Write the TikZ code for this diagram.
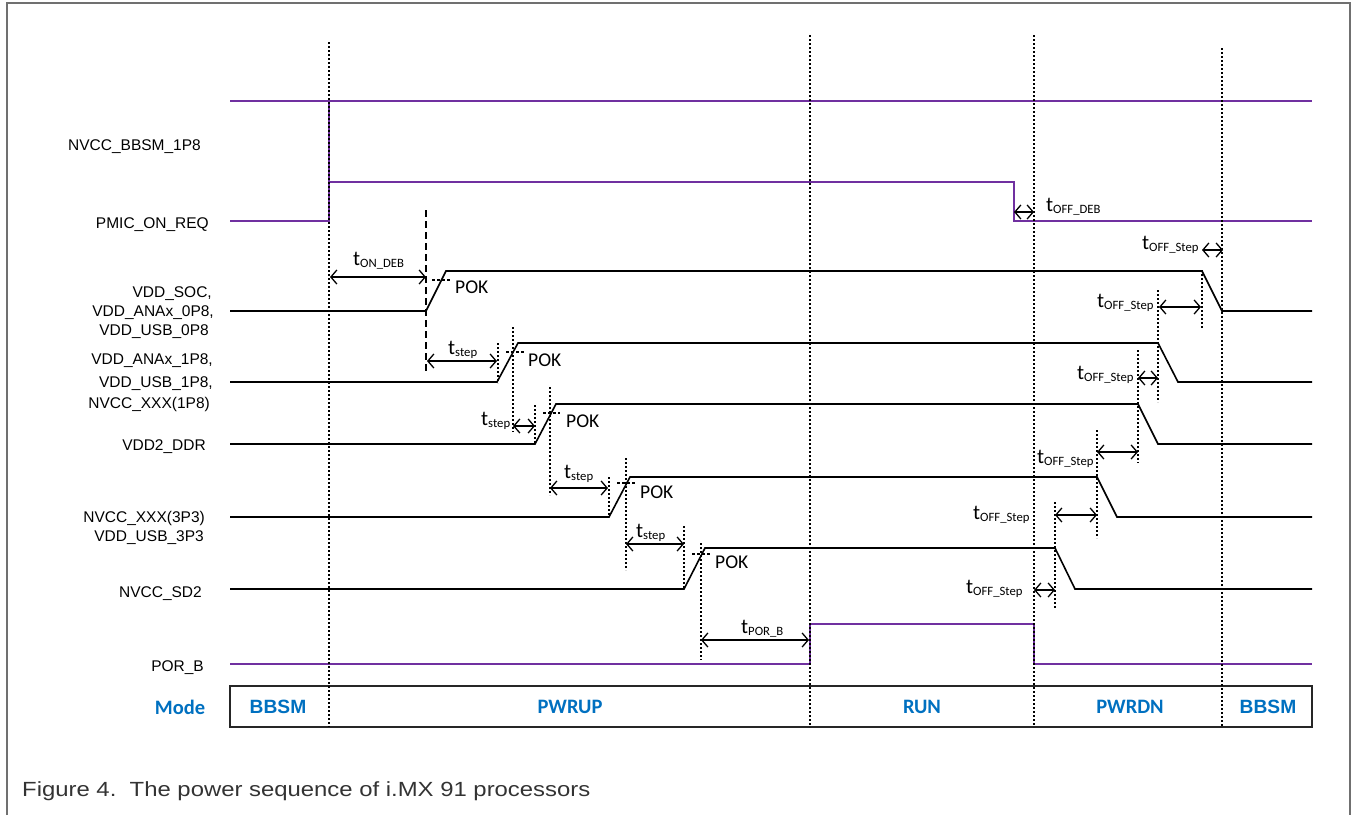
\documentclass[tikz,border=0pt]{standalone}
\usepackage{fontspec}
\setmainfont{Liberation Sans}
\newfontfamily\calib{Carlito}
\usetikzlibrary{arrows.meta}
\definecolor{sigpurple}{HTML}{7030A0}
\definecolor{modeblue}{HTML}{0070C0}
\definecolor{framegray}{HTML}{707070}
\definecolor{captgray}{HTML}{333333}
\newcommand\tlab[1]{{\calib\fontsize{21}{22}\selectfont t\fontsize{12.7}{13}\selectfont\raisebox{-2.5pt}{#1}}}
\begin{document}
\begin{tikzpicture}[x=1pt,y=-1pt,
  sig/.style={line width=1.6pt, black},
  psig/.style={line width=1.8pt, sigpurple},
  vdot/.style={line width=1.2pt, dash pattern=on 2pt off 2pt},
  vdash/.style={line width=1.3pt, dash pattern=on 7pt off 4pt},
  pokdash/.style={line width=1.2pt, dash pattern=on 3pt off 2pt},
  tarr/.style={line width=1.3pt, {Straight Barb[length=6pt,width=14pt]}-{Straight Barb[length=6pt,width=14pt]}},
  slab/.style={anchor=base east, inner sep=0pt, font=\fontsize{15.5}{18}\selectfont},
  tlabel/.style={anchor=base west, inner sep=0pt},
  pok/.style={anchor=base west, inner sep=0pt, font=\calib\fontsize{19.5}{20}\selectfont},
  modelab/.style={inner sep=0pt, text=modeblue, font=\calib\bfseries\fontsize{20.5}{21}\selectfont},
  modelabB/.style={inner sep=0pt, text=modeblue, font=\bfseries\fontsize{19.2}{21}\selectfont}]
\useasboundingbox (0,0) rectangle (1353,815);
% frame
\draw[framegray, line width=1.5pt] (7,815) -- (7,3) -- (1350,3) -- (1350,815);

% signal labels
\node[slab] (l1) at (201,150.5) {NVCC\_BBSM\_1P8};
\node[slab] (l2) at (209,228.5) {PMIC\_ON\_REQ};
\node[slab] (l3a) at (212,297.5) {VDD\_SOC,};
\node[slab] (l3b) at (214,316.5) {VDD\_ANAx\_0P8,};
\node[slab] (l3c) at (209,335.5) {VDD\_USB\_0P8};
\node[slab] (l4a) at (213,364.5) {VDD\_ANAx\_1P8,};
\node[slab] (l4b) at (213,387.5) {VDD\_USB\_1P8,};
\node[slab] (l4c) at (210,408.5) {NVCC\_XXX(1P8)};
\node[slab] (l5) at (206,450.5) {VDD2\_DDR};
\node[slab] (l6a) at (205,522.5) {NVCC\_XXX(3P3)};
\node[slab] (l6b) at (204,541.5) {VDD\_USB\_3P3};
\node[slab] (l7) at (202,597.5) {NVCC\_SD2};
\node[slab] (l8) at (204,671.5) {POR\_B};

% purple signals
\draw[psig] (230,101) -- (1312,101);
\draw[psig] (329,101) -- (329,182);
\draw[psig] (230,221) -- (329,221) -- (329,182) -- (1014,182) -- (1014,221) -- (1312,221);
\draw[psig] (230,664) -- (810,664) -- (810,624) -- (1034,624) -- (1034,664) -- (1312,664);

% black rails
\draw[sig] (230,311) -- (426,311) -- (446,271) -- (1202,271) -- (1222,311) -- (1312,311);
\draw[sig] (230,382) -- (497,382) -- (518,343) -- (1158,343) -- (1178,382) -- (1312,382);
\draw[sig] (230,444) -- (535,444) -- (556,404) -- (1138,404) -- (1158,444) -- (1312,444);
\draw[sig] (230,517) -- (609,517) -- (630,477) -- (1097,477) -- (1117,517) -- (1312,517);
\draw[sig] (230,589) -- (684,589) -- (705,548) -- (1055,548) -- (1075,589) -- (1312,589);

% mode bar
\draw[line width=2pt, black!85] (230,686) rectangle (1312,727);
\node[modelab] (m0) at (180,707) {Mode};
\node[modelabB] (m1) at (278,707) {BBSM};
\node[modelab] (m2) at (570,707) {PWRUP};
\node[modelab] (m3) at (922,707) {RUN};
\node[modelab] (m4) at (1130,707) {PWRDN};
\node[modelabB] (m5) at (1268,707) {BBSM};

% main phase boundaries
\draw[vdot] (329,42) -- (329,727);
\draw[vdot] (810,35) -- (810,727);
\draw[vdot] (1034,35) -- (1034,727);
\draw[vdot] (1222,48) -- (1222,727);

% auxiliary verticals (power-up)
\draw[vdash] (426,210) -- (426,372);
\draw[vdot] (498,343) -- (498,383);
\draw[vdot] (513,327) -- (513,432);
\draw[vdot] (535,405) -- (535,444);
\draw[vdot] (550,387) -- (550,495);
\draw[vdot] (609,477) -- (609,517);
\draw[vdot] (626,458) -- (626,570);
\draw[vdot] (684,526) -- (684,588);
\draw[vdot] (701,543) -- (701,660);
% auxiliary verticals (power-down)
\draw[vdot] (1202,270) -- (1202,329);
\draw[vdot] (1158,290) -- (1158,402);
\draw[vdot] (1138,350) -- (1138,463);
\draw[vdot] (1097,430) -- (1097,538);
\draw[vdot] (1055,502) -- (1055,608);

% POK marks
\draw[pokdash] (432,280) -- (450,280);
\draw[pokdash] (506,352) -- (524,352);
\draw[pokdash] (543,413) -- (560,413);
\draw[pokdash] (617,483) -- (635,483);
\draw[pokdash] (692,554) -- (710,554);
\node[pok] (p1) at (455,293) {POK};
\node[pok] (p2) at (528,366) {POK};
\node[pok] (p3) at (566,427) {POK};
\node[pok] (p4) at (640,498) {POK};
\node[pok] (p5) at (715,568) {POK};

% timing arrows
\draw[tarr] (330,277) -- (426,277);
\draw[tarr] (427,361) -- (497,361);
\draw[tarr] (513,426) -- (535,426);
\draw[tarr] (550,488) -- (608,488);
\draw[tarr] (626,544) -- (684,544);
\draw[tarr] (701,640) -- (809,640);
\draw[tarr] (1014,212) -- (1034,212);
\draw[tarr] (1202,250) -- (1223,250);
\draw[tarr] (1159,307) -- (1201,307);
\draw[tarr] (1138,378) -- (1158,378);
\draw[tarr] (1097,452) -- (1138,452);
\draw[tarr] (1055,515) -- (1097,515);
\draw[tarr] (1034,590) -- (1055,590);

% timing labels
\node[tlabel] (t1) at (353,265) {\tlab{ON\_DEB}};
\node[tlabel] (t2) at (448,354) {\tlab{step}};
\node[tlabel] (t3) at (481,425) {\tlab{step}};
\node[tlabel] (t4) at (564,478) {\tlab{step}};
\node[tlabel] (t5) at (636,537) {\tlab{step}};
\node[tlabel] (t6) at (741,633) {\tlab{POR\_B}};
\node[tlabel] (t7) at (1046,211) {\tlab{OFF\_DEB}};
\node[tlabel] (t8) at (1142,249) {\tlab{OFF\_Step}};
\node[tlabel] (t9) at (1097,307) {\tlab{OFF\_Step}};
\node[tlabel] (t10) at (1077,379) {\tlab{OFF\_Step}};
\node[tlabel] (t11) at (1037,463) {\tlab{OFF\_Step}};
\node[tlabel] (t12) at (973,519) {\tlab{OFF\_Step}};
\node[tlabel] (t13) at (966,593) {\tlab{OFF\_Step}};

% caption
\node[anchor=base west, inner sep=0pt, text=captgray] (cap) at (22,796)
  {\scalebox{1.165}[1]{\fontsize{20.5}{24}\selectfont Figure 4.\ \ The power sequence of i.MX 91 processors}};
\end{tikzpicture}
\end{document}
